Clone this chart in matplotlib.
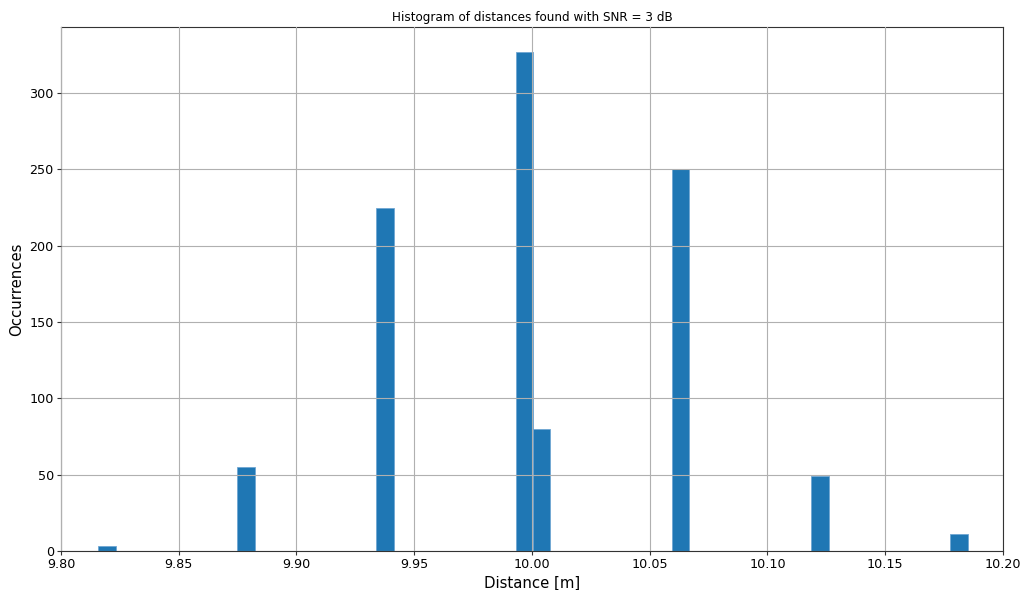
import numpy as np
import matplotlib
matplotlib.use("Agg")
import matplotlib.pyplot as plt

# Range of measured distances and number of histogram bins
d_min = 9.8158
d_max = 10.1850
n_bins = 50

# Non-empty bins (index into the 50 bins) and their counts
bin_index = [0, 8, 16, 24, 25, 33, 41, 49]
counts = [3, 55, 225, 327, 80, 250, 49, 11]

edges = np.linspace(d_min, d_max, n_bins + 1)
centers = (edges[:-1] + edges[1:]) / 2
samples = centers[bin_index]

fig, ax = plt.subplots(figsize=(10.25, 5.9), dpi=100)
fig.subplots_adjust(left=0.0595, right=0.9785, top=0.9542, bottom=0.0661)

ax.hist(samples, bins=edges, weights=counts, color='#1f77b4',
        edgecolor='#6fa6d3', linewidth=0.6)

ax.set_xlim(9.80, 10.20)
ax.set_xticks(np.arange(9.80, 10.201, 0.05))
ax.grid(True, color='#b0b0b0', linewidth=0.8)
ax.set_axisbelow(False)

for spine in ax.spines.values():
    spine.set_color('#333333')

ax.set_title('Histogram of distances found with SNR = 3 dB', fontsize=8.65, pad=4)
ax.set_xlabel('Distance [m]', fontsize=10.7, labelpad=3)
ax.set_ylabel('Occurrences', fontsize=10.7, labelpad=4)
ax.tick_params(labelsize=9.2, length=3, pad=2.2, color='#333333')

fig.savefig('out.png', dpi=100)
